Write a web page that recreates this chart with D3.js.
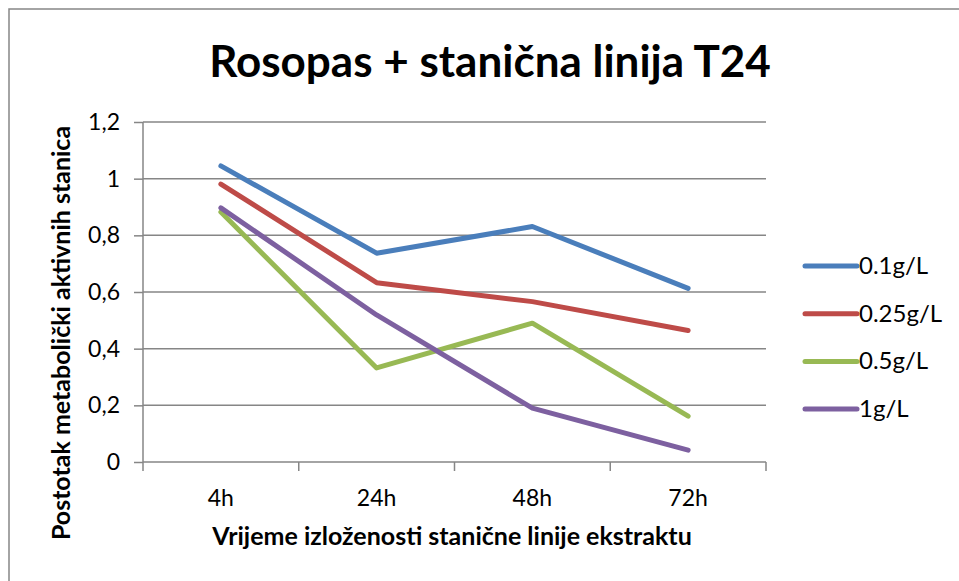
<!DOCTYPE html>
<html>
<head>
<meta charset="utf-8">
<script src="https://cdn.jsdelivr.net/npm/d3@7"></script>
<style>
  body { margin: 0; background: #fff; overflow: hidden; }
  text { font-family: Lato, "Open Sans", sans-serif; fill: #000; }
</style>
</head>
<body>
<script>
var w = 959;
var h = 581;

var categories = ['4h', '24h', '48h', '72h'];
var seriesNames = ['0.1g/L', '0.25g/L', '0.5g/L', '1g/L'];
var s01 = [1.045, 0.737, 0.831, 0.613];
var s025 = [0.981, 0.633, 0.566, 0.464];
var s05 = [0.882, 0.332, 0.49, 0.162];
var s1 = [0.897, 0.519, 0.19, 0.042];
var yTicks = [0, 0.2, 0.4, 0.6, 0.8, 1, 1.2];
var colors = ['#4a7ebb', '#be4b48', '#98b954', '#7d60a0'];

var series = [s01, s025, s05, s1].map(function(v, i){
  return {name: seriesNames[i], values: v, color: colors[i]};
});

var svg = d3.select('body').append('svg')
    .attr('width', w)
    .attr('height', h)
    .style('display', 'block');

// outer chart border
svg.append('rect')
    .attr('x', 9).attr('y', 9)
    .attr('width', w + 20).attr('height', h + 20)
    .attr('fill', 'none')
    .attr('stroke', '#868686')
    .attr('stroke-width', 1.5);

var pLeft = 143, pRight = 766, pTop = 122, pBottom = 462;

var x = d3.scaleBand().domain(categories).range([pLeft, pRight]);
var y = d3.scaleLinear().domain([0, 1.2]).range([pBottom, pTop]);

// gridlines
svg.append('g').selectAll('line').data(yTicks.slice(1)).enter().append('line')
    .attr('x1', pLeft).attr('x2', pRight)
    .attr('y1', function(d){ return y(d); })
    .attr('y2', function(d){ return y(d); })
    .attr('stroke', '#868686').attr('stroke-width', 1.5);

// y axis
var yAxis = svg.append('g')
    .attr('transform', 'translate(' + pLeft + ',0)')
    .call(d3.axisLeft(y).tickValues(yTicks).tickSize(9).tickPadding(14)
      .tickFormat(function(d){ return String(d).replace('.', ','); }));
yAxis.attr('font-family', null).attr('font-size', null);
yAxis.selectAll('path, line').attr('stroke', '#868686').attr('stroke-width', 1.5);
yAxis.select('.domain').attr('d', 'M0,' + pTop + 'V' + pBottom);
yAxis.selectAll('text').style('font-size', '23px');

// x axis with ticks between categories
var xAxis = svg.append('g')
    .attr('transform', 'translate(0,' + pBottom + ')');
xAxis.append('line').attr('x1', pLeft).attr('x2', pRight)
    .attr('stroke', '#868686').attr('stroke-width', 1.5);
xAxis.selectAll('.tk').data(categories.concat(['end'])).enter().append('line')
    .attr('class', 'tk')
    .attr('x1', function(d, i){ return pLeft + i * x.bandwidth(); })
    .attr('x2', function(d, i){ return pLeft + i * x.bandwidth(); })
    .attr('y1', 0).attr('y2', 9)
    .attr('stroke', '#868686').attr('stroke-width', 1.5);
xAxis.selectAll('text').data(categories).enter().append('text')
    .attr('x', function(d){ return x(d) + x.bandwidth() / 2; })
    .attr('y', 44)
    .attr('text-anchor', 'middle')
    .style('font-size', '23px')
    .text(function(d){ return d; });

// lines
var line = d3.line()
    .x(function(d, i){ return x(categories[i]) + x.bandwidth() / 2; })
    .y(function(d){ return y(d); });

svg.append('g').selectAll('path').data(series).enter().append('path')
    .attr('d', function(d){ return line(d.values); })
    .attr('fill', 'none')
    .attr('stroke', function(d){ return d.color; })
    .attr('stroke-width', 5)
    .attr('stroke-linecap', 'round')
    .attr('stroke-linejoin', 'round');

// legend
var legend = svg.append('g').selectAll('g').data(series).enter().append('g')
    .attr('transform', function(d, i){ return 'translate(805,' + (266 + i * 47.7) + ')'; });
legend.append('line').attr('x1', 0).attr('x2', 52)
    .attr('stroke', function(d){ return d.color; })
    .attr('stroke-width', 5).attr('stroke-linecap', 'round');
legend.append('text').attr('x', 54).attr('y', 8)
    .style('font-size', '24px')
    .text(function(d){ return d.name; });

// titles
svg.append('text')
    .attr('x', 490).attr('y', 77)
    .attr('text-anchor', 'middle')
    .style('font-size', '44px').style('font-weight', 'bold')
    .text('Rosopas + stanična linija T24');

svg.append('text')
    .attr('x', 452).attr('y', 545)
    .attr('text-anchor', 'middle')
    .style('font-size', '25px').style('font-weight', 'bold')
    .text('Vrijeme izloženosti stanične linije ekstraktu');

svg.append('text')
    .attr('transform', 'translate(70,333) rotate(-90)')
    .attr('text-anchor', 'middle')
    .style('font-size', '25px').style('font-weight', 'bold')
    .text('Postotak metabolički aktivnih stanica');
</script>
</body>
</html>
